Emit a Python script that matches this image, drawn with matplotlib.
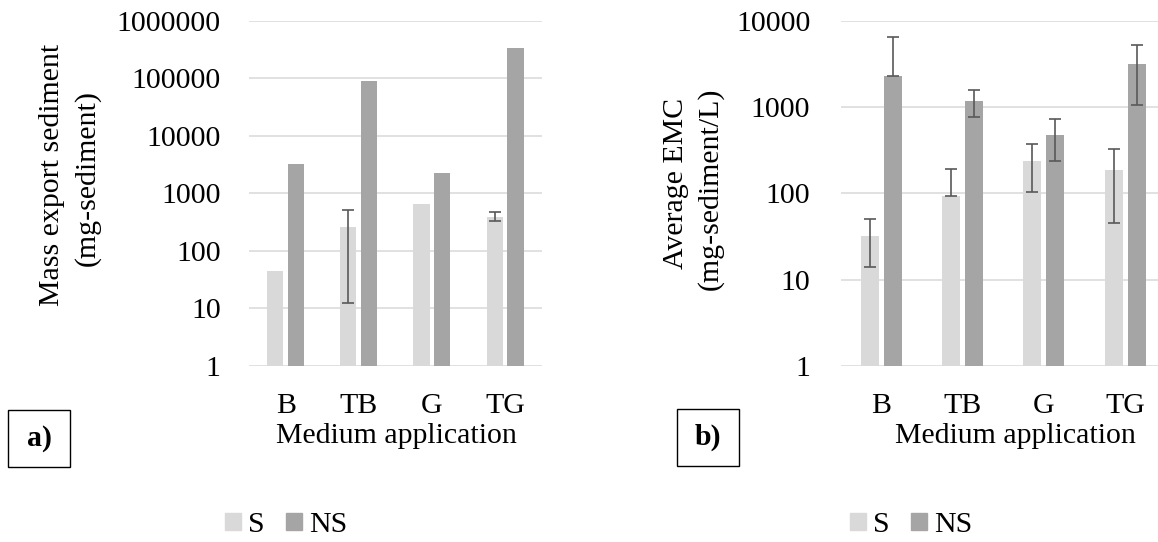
import matplotlib
matplotlib.use("Agg")
import matplotlib.pyplot as plt
import numpy as np
from matplotlib.patches import Rectangle, Patch

plt.rcParams['font.family'] = ['Liberation Serif', 'DejaVu Serif']

cats = ['B', 'TB', 'G', 'TG']

# panel a) mass export sediment (mg-sediment)
mass_s = [44, 260, 650, 395]
mass_ns = [3240, 88500, 2260, 340000]
mass_s_lo = [np.nan, 12.3, np.nan, 327]
mass_s_hi = [np.nan, 520, np.nan, 474]

# panel b) average EMC (mg-sediment/L)
emc_s = [32, 93, 237, 185]
emc_s_lo = [14, 93, 104, 45]
emc_s_hi = [50.5, 190, 377, 324]
emc_ns = [2290, 1167, 479, 3160]
emc_ns_lo = [2290, 768, 239, 1067]
emc_ns_hi = [6430, 1578, 728, 5250]

c_s = '#D9D9D9'
c_ns = '#A5A5A5'
c_err = '#595959'
c_grid = '#D9D9D9'
FS = 21.5

W, H = 1158, 542
fig = plt.figure(figsize=(W / 100, H / 100), dpi=100)


def px(x, y):
    return x / W, 1 - y / H


def draw_err(ax, x, val, lo, hi):
    val = np.array(val, float)
    lo = np.array(lo, float)
    hi = np.array(hi, float)
    m = ~np.isnan(lo)
    ax.errorbar(np.asarray(x)[m], val[m], yerr=[val[m] - lo[m], hi[m] - val[m]],
                fmt='none', ecolor=c_err, elinewidth=1.2, capsize=4.3, capthick=1.2, zorder=4)


def setup(ax, ylim, xlim, ypad):
    ax.set_yscale('log')
    ax.set_ylim(*ylim)
    ax.set_xlim(*xlim)
    ax.yaxis.set_major_locator(matplotlib.ticker.LogLocator(base=10, numticks=20))
    ax.yaxis.set_minor_locator(matplotlib.ticker.NullLocator())
    ax.yaxis.set_major_formatter(matplotlib.ticker.FuncFormatter(lambda v, p: f'{v:.0f}'))
    ax.grid(axis='y', color=c_grid, linewidth=1.1, zorder=0)
    ax.set_axisbelow(True)
    for s in ax.spines.values():
        s.set_visible(False)
    ax.set_xticks(range(len(cats)))
    ax.set_xticklabels(cats)
    ax.tick_params(axis='x', length=0, pad=19.5, labelsize=FS)
    ax.tick_params(axis='y', length=0, pad=ypad, labelsize=FS)


x = np.arange(len(cats))

# ---- panel a
x0, x1 = 249.2, 541.6
ax1 = fig.add_axes([x0 / W, 1 - 366 / H, (x1 - x0) / W, (366 - 20.7) / H])
w, off = 0.22, 0.143
ax1.bar(x - off, mass_s, w, color=c_s, zorder=2)
ax1.bar(x + off, mass_ns, w, color=c_ns, zorder=2)
draw_err(ax1, x - off, mass_s, mass_s_lo, mass_s_hi)
setup(ax1, (1, 1e6), (-0.5, 3.5), 20.5)

# ---- panel b
x0b, step = 840.9, 81.2
ax2 = fig.add_axes([x0b / W, 1 - 366 / H, (W - x0b) / W, (366 - 20.7) / H])
w2, off2 = 0.222, 0.142
ax2.bar(x - off2, emc_s, w2, color=c_s, zorder=2)
ax2.bar(x + off2, emc_ns, w2, color=c_ns, zorder=2)
draw_err(ax2, x - off2, emc_s, emc_s_lo, emc_s_hi)
draw_err(ax2, x + off2, emc_ns, emc_ns_lo, emc_ns_hi)
setup(ax2, (1, 1e4), (-0.5, -0.5 + (W - x0b) / step), 22)

# axis titles
fig.text(*px(396, 443), 'Medium application', fontsize=FS, ha='center', va='baseline')
fig.text(*px(1015, 443), 'Medium application', fontsize=FS, ha='center', va='baseline')

fig.text(*px(58.6, 175), 'Mass export sediment', fontsize=FS, rotation=90,
         rotation_mode='anchor', ha='center', va='baseline')
fig.text(*px(94, 178), '(mg-sediment)', fontsize=FS, rotation=90,
         rotation_mode='anchor', ha='center', va='baseline')
fig.text(*px(683, 183), 'Average EMC', fontsize=FS, rotation=90,
         rotation_mode='anchor', ha='center', va='baseline')
fig.text(*px(717, 189), '(mg-sediment/L)', fontsize=FS, rotation=90,
         rotation_mode='anchor', ha='center', va='baseline')

# panel tags in boxes
for (bx0, by0, bx1, by1), tag in [((8, 410, 70, 467), 'a)'), ((677, 409, 739, 466), 'b)')]:
    fig.patches.append(Rectangle(px(bx0, by1), (bx1 - bx0) / W, (by1 - by0) / H,
                                 transform=fig.transFigure, fill=False,
                                 edgecolor='black', linewidth=1.0))
    fig.text(*px((bx0 + bx1) / 2, (by0 + by1) / 2), tag, fontsize=FS, fontweight='bold',
             ha='center', va='center')

# legends
handles = [Patch(color=c_s), Patch(color=c_ns)]
for cx in (286, 911):
    fig.legend(handles, ['S', 'NS'], loc='center', bbox_to_anchor=px(cx, 525),
               ncol=2, frameon=False, fontsize=FS, handlelength=0.54, handleheight=0.54,
               handletextpad=0.25, columnspacing=0.7, borderpad=0, borderaxespad=0)

fig.savefig('out.png', dpi=100)
